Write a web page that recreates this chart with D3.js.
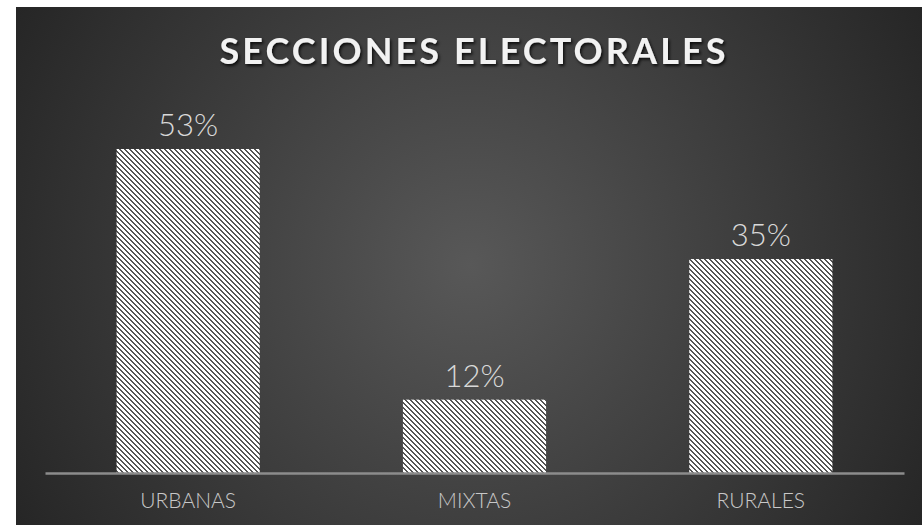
<!DOCTYPE html>
<html>
<head>
<meta charset="utf-8">
<script src="https://cdn.jsdelivr.net/npm/d3@7"></script>
<style>
  html, body { margin: 0; padding: 0; background: #ffffff; }
  svg { display: block; }
</style>
</head>
<body>
<svg id="chart" width="922" height="525"></svg>
<script>
const categories = ["URBANAS", "MIXTAS", "RURALES"];
const values = [53, 12, 35];
const valueLabels = ["53%", "12%", "35%"];
const title = "SECCIONES ELECTORALES";

const W = 922, H = 525;
const svg = d3.select("#chart");
const defs = svg.append("defs");

// background radial gradient
const rg = defs.append("radialGradient")
  .attr("id", "bg").attr("gradientUnits", "userSpaceOnUse")
  .attr("cx", 470).attr("cy", 265).attr("r", 520);
rg.append("stop").attr("offset", "0%").attr("stop-color", "#585858");
rg.append("stop").attr("offset", "100%").attr("stop-color", "#262626");

// hatch pattern (downward diagonal)
const pat = defs.append("pattern").attr("id", "hatch")
  .attr("patternUnits", "userSpaceOnUse").attr("width", 5).attr("height", 5);
pat.append("rect").attr("width", 5).attr("height", 5).attr("fill", "#ffffff");
for (let r = 0; r < 5; r++) {
  for (let k = 0; k < 2; k++) {
    pat.append("rect").attr("x", (r + k) % 5).attr("y", r)
      .attr("width", 1).attr("height", 1).attr("fill", "#555555");
  }
}

// title shadow filter
const f = defs.append("filter").attr("id", "shadow").attr("x", "-10%").attr("y", "-30%").attr("width", "120%").attr("height", "160%");
f.append("feDropShadow").attr("dx", 1.5).attr("dy", 2).attr("stdDeviation", 1.5)
  .attr("flood-color", "#000").attr("flood-opacity", 0.8);

svg.append("rect").attr("x", 16).attr("y", 7).attr("width", W - 16).attr("height", H - 7)
  .attr("fill", "url(#bg)");

const x = d3.scaleBand().domain(categories).range([45, 904]).paddingInner(0.5).paddingOuter(0.25);
const y = d3.scaleLinear().domain([0, 53]).range([473, 149]);

svg.append("text")
  .attr("x", 474).attr("y", 64)
  .attr("text-anchor", "middle")
  .attr("font-family", "Lato, 'Open Sans', sans-serif")
  .attr("font-weight", 700)
  .attr("font-size", 36)
  .attr("letter-spacing", 3.1)
  .attr("fill", "#f2f2f2")
  .attr("filter", "url(#shadow)")
  .text(title);

svg.selectAll("rect.bar").data(values).join("rect")
  .attr("class", "bar")
  .attr("x", (d, i) => x(categories[i]))
  .attr("y", d => y(d))
  .attr("width", x.bandwidth())
  .attr("height", d => y(0) - y(d))
  .attr("fill", "url(#hatch)");

// axis
const axis = svg.append("g").attr("transform", `translate(0,${y(0)})`)
  .call(d3.axisBottom(x).tickSize(0).tickPadding(20));
axis.select(".domain").attr("stroke", "#8c8c8c").attr("stroke-width", 2.5);
axis.selectAll("text")
  .attr("font-family", "Lato, 'Open Sans', sans-serif")
  .attr("font-weight", 300)
  .attr("font-size", 21)
  .attr("fill", "#c8c8c8");

svg.selectAll("text.val").data(values).join("text")
  .attr("class", "val")
  .attr("x", (d, i) => x(categories[i]) + x.bandwidth() / 2)
  .attr("y", d => y(d) - 13)
  .attr("text-anchor", "middle")
  .attr("font-family", "Lato, 'Open Sans', sans-serif")
  .attr("font-weight", 300)
  .attr("font-size", 31)
  .attr("fill", "#d9d9d9")
  .text((d, i) => valueLabels[i]);
</script>
</body>
</html>
